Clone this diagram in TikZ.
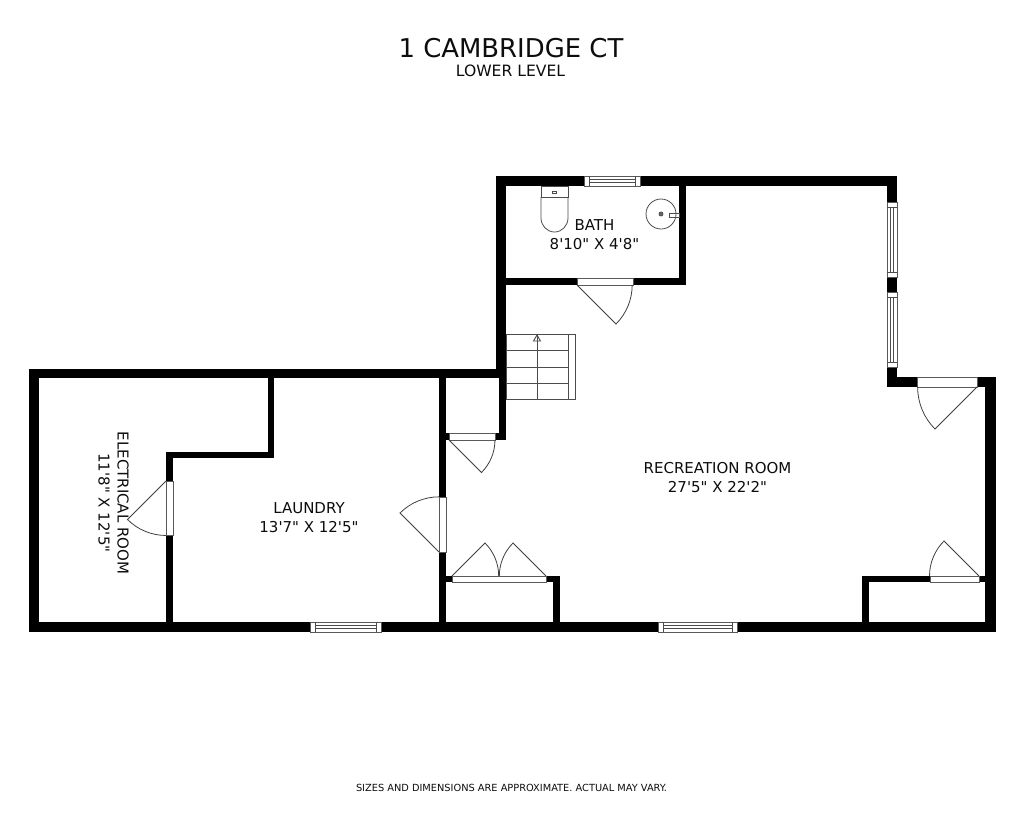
\documentclass[tikz,border=0pt]{standalone}
\usepackage{fontspec}
\newfontfamily\planfont{DejaVu Sans}
\tikzset{
  wall/.style={fill=black,draw=none},
  panel/.style={fill=white,draw=black!65,line width=0.8pt},
  thin line/.style={draw=black!70,line width=0.8pt},
  swing/.style={draw=black!75,line width=0.8pt},
  stairline/.style={draw=black!70,line width=0.9pt},
  label/.style={font=\planfont\fontsize{15}{19}\selectfont,align=center,text=black!95,inner sep=0pt},
}
\newcommand{\hwindow}[4]{% x1 x2 y1 y2
  \path[panel] (#1,#3) rectangle (#2,#4);
  \path[thin line] (#1+5,#3) -- (#1+5,#4) (#2-5,#3) -- (#2-5,#4);
  \path[thin line] (#1+5,#3/2+#4/2-1.2) -- (#2-5,#3/2+#4/2-1.2) (#1+5,#3/2+#4/2+1.2) -- (#2-5,#3/2+#4/2+1.2);
}
\newcommand{\vwindow}[4]{% x1 x2 y1 y2
  \path[panel] (#1,#3) rectangle (#2,#4);
  \path[thin line] (#1,#3+5) -- (#2,#3+5) (#1,#4-5) -- (#2,#4-5);
  \path[thin line] (#1/2+#2/2-1.2,#3+5) -- (#1/2+#2/2-1.2,#4-5) (#1/2+#2/2+1.2,#3+5) -- (#1/2+#2/2+1.2,#4-5);
}
\begin{document}
\begin{tikzpicture}[x=1pt,y=-1pt]
\useasboundingbox (0,0) rectangle (1024,815);
\fill[white] (0,0) rectangle (1024,815);
% walls
\path[wall] (29,369) rectangle (506,378);
\path[wall] (29,369) rectangle (39,632);
\path[wall] (29,622) rectangle (996,632);
\path[wall] (268,378) rectangle (274,458);
\path[wall] (166,452) rectangle (274,458);
\path[wall] (166,452) rectangle (173,632);
\path[wall] (439,378) rectangle (446,632);
\path[wall] (496,176) rectangle (506,369);
\path[wall] (499,369) rectangle (506,440);
\path[wall] (446,433) rectangle (506,440);
\path[wall] (496,176) rectangle (897,186);
\path[wall] (679,186) rectangle (686,285);
\path[wall] (506,278) rectangle (686,285);
\path[wall] (887,176) rectangle (897,387);
\path[wall] (887,377) rectangle (996,387);
\path[wall] (985,377) rectangle (996,632);
\path[wall] (446,576) rectangle (560,582);
\path[wall] (553,576) rectangle (560,632);
\path[wall] (862,576) rectangle (985,582);
\path[wall] (862,576) rectangle (869,632);
% windows
\hwindow{584}{640}{176}{186}
\hwindow{310}{381}{622}{632}
\hwindow{658}{737}{622}{632}
\vwindow{887}{897}{202}{277}
\vwindow{887}{897}{292}{367}
% door openings
\path[panel] (166,481) rectangle (173,535);
\path[panel] (439,497) rectangle (446,552);
\path[panel] (577,278) rectangle (633,285);
\path[panel] (449,433) rectangle (495,440);
\path[panel] (917,377) rectangle (977,387);
\path[panel] (930,576) rectangle (979,582);
\path[panel] (452,576) rectangle (546,582);
% door swings
\path[swing] (166,481) -- (127.5,519.5) arc[start angle=135,end angle=90,radius=54.5];
\path[swing] (439,552) -- (400,513) arc[start angle=225,end angle=270,radius=55.2];
\path[swing] (577,285) -- (616,324) arc[start angle=45,end angle=0,radius=55.2];
\path[swing] (449,440) -- (481.5,472.5) arc[start angle=45,end angle=0,radius=46];
\path[swing] (977,387) -- (935,429) arc[start angle=135,end angle=180,radius=59.4];
\path[swing] (979,576) -- (944,541) arc[start angle=225,end angle=180,radius=49.5];
\path[swing] (452,576) -- (485,543) arc[start angle=-45,end angle=0,radius=46.7];
\path[swing] (546,576) -- (513,543) arc[start angle=225,end angle=180,radius=46.7];
% stairs
\path[stairline] (506,334) rectangle (575,399);
\path[stairline] (568,334) -- (568,399);
\foreach \yy in {350.5,367,383.5} \path[stairline] (506,\yy) -- (568,\yy);
\path[stairline] (537,335) -- (537,399);
\path[stairline] (533.5,341) -- (537,335) -- (540.5,341) -- cycle;
% toilet
\path[thin line] (541,186) rectangle (568,197);
\path[thin line] (541,197) -- (541,218) arc[start angle=180,end angle=0,x radius=13.5,y radius=14] -- (568,197);
\path[thin line] (552,191) rectangle (556,193.5);
% sink
\path[thin line] (661,214) circle[radius=15];
\path[thin line,fill=black!60] (661,214) circle[radius=2];
\path[thin line] (669,213) rectangle (679,217);
% labels
\node[label,font=\planfont\fontsize{25.9}{30}\selectfont] (title) at (511,48.5) {1 CAMBRIDGE CT};
\node[label,font=\planfont\fontsize{15.6}{19}\selectfont] (subtitle) at (510.5,71) {LOWER LEVEL};
\node[label] (bath) at (594.5,235) {BATH\\8'10" X 4'8"};
\node[label] (rec) at (717.5,478) {RECREATION ROOM\\27'5" X 22'2"};
\node[label] (laundry) at (309,518) {LAUNDRY\\13'7" X 12'5"};
\node[label,rotate=-90] (elec) at (113.5,503) {ELECTRICAL ROOM\\11'8" X 12'5"};
\node[label,font=\planfont\fontsize{9.8}{12}\selectfont] (note) at (511.5,788) {SIZES AND DIMENSIONS ARE APPROXIMATE. ACTUAL MAY VARY.};
\end{tikzpicture}
\end{document}
